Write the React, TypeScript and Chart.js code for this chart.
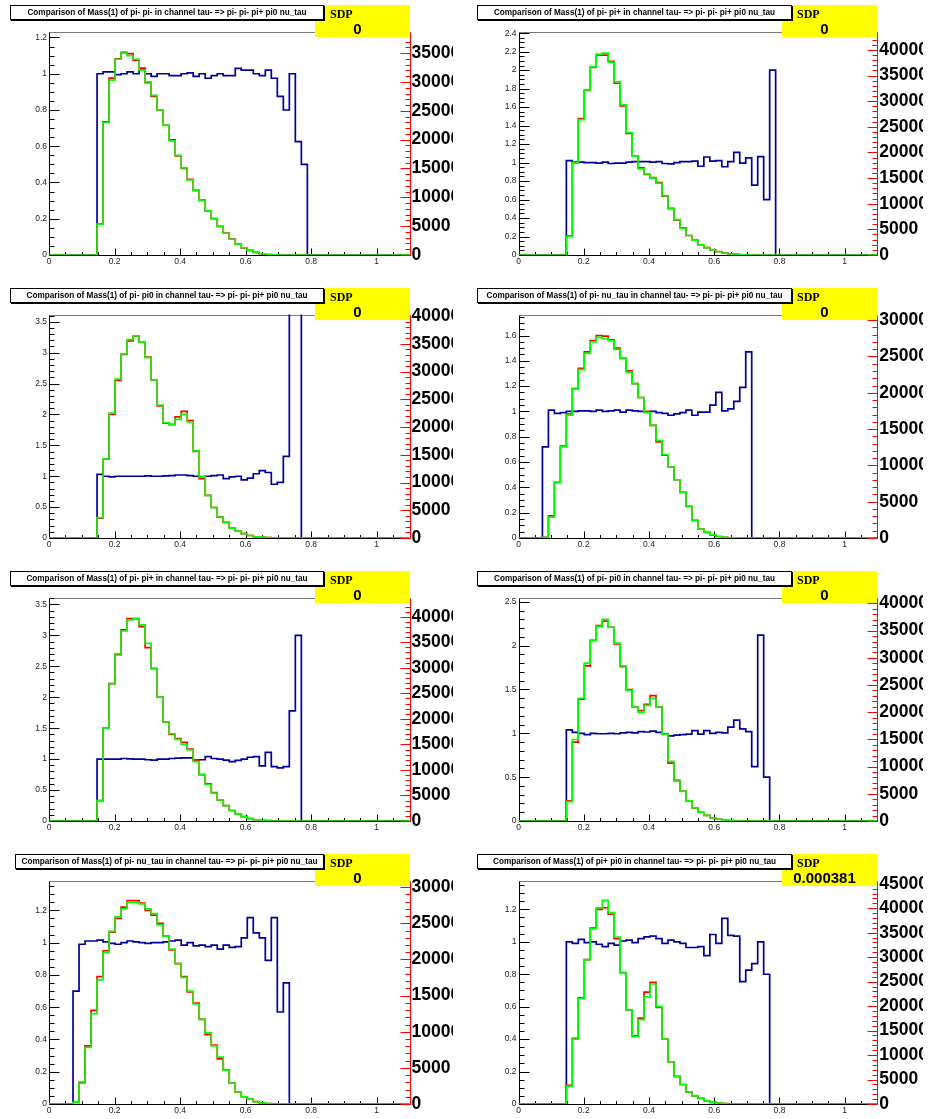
import React, { useEffect, useRef } from 'react';
import { Chart, registerables } from 'chart.js';

Chart.register(...registerables);

const NBINS = 60;
const XMAX = 1.1;
const BIN_W = XMAX / NBINS;

const xTickLabels = [0, 0.2, 0.4, 0.6, 0.8, 1];

const titles = [
  'Comparison of Mass(1) of pi- pi- in channel tau- => pi- pi- pi+ pi0 nu_tau',
  'Comparison of Mass(1) of pi- pi+ in channel tau- => pi- pi- pi+ pi0 nu_tau',
  'Comparison of Mass(1) of pi- pi0 in channel tau- => pi- pi- pi+ pi0 nu_tau',
  'Comparison of Mass(1) of pi- nu_tau in channel tau- => pi- pi- pi+ pi0 nu_tau',
  'Comparison of Mass(1) of pi- pi+ in channel tau- => pi- pi- pi+ pi0 nu_tau',
  'Comparison of Mass(1) of pi- pi0 in channel tau- => pi- pi- pi+ pi0 nu_tau',
  'Comparison of Mass(1) of pi- nu_tau in channel tau- => pi- pi- pi+ pi0 nu_tau',
  'Comparison of Mass(1) of pi+ pi0 in channel tau- => pi- pi- pi+ pi0 nu_tau',
];
const sdpValues = ['0', '0', '0', '0', '0', '0', '0', '0.000381'];

// ---- Panel 1: pi- pi- ----
const p1Start = 8;
const p1Blue = [1.0, 1.01, 1.01, 0.995, 1.0, 1.01, 1.0, 1.02, 1.0, 0.985, 1.0, 1.0, 0.99, 0.99, 1.0, 1.005, 0.985, 1.0, 0.975, 0.99, 1.0, 0.99, 0.99, 1.03, 1.02, 1.02, 1.0, 0.99, 1.02, 0.975, 0.875, 0.8, 1.0, 0.625, 0.5];
const p1Green = [5340, 22940, 30330, 33940, 35200, 34570, 33940, 32060, 30010, 27660, 25140, 22470, 19800, 17290, 15090, 13040, 11160, 9430, 7700, 6290, 4930, 3770, 2730, 1890, 1260, 790, 440, 220, 90, 30];
const p1Red = [5400, 23100, 30650, 34000, 35100, 34900, 33800, 32400, 29900, 27500, 25100, 22500, 19950, 17200, 15000, 13100, 11200, 9500, 7650, 6300, 4950, 3800, 2750, 1900, 1250, 800, 450, 220, 90, 30];

// ---- Panel 2: pi- pi+ ----
const p2Start = 8;
const p2Blue = [1.02, 1.0, 1.005, 1.0, 1.0, 0.995, 1.005, 0.99, 0.995, 0.995, 1.005, 1.01, 1.01, 1.01, 1.005, 1.01, 0.99, 0.985, 1.0, 1.01, 1.01, 1.015, 0.96, 1.06, 1.015, 1.02, 0.955, 1.01, 1.11, 0.995, 1.05, 0.755, 1.065, 0.6, 2.0];
const p2Green = [3600, 18000, 26400, 32200, 36700, 39200, 39400, 37600, 33800, 29300, 23900, 19300, 16800, 15800, 15000, 14000, 11600, 9000, 6900, 5200, 3800, 2900, 2000, 1450, 1000, 630, 360, 220, 110, 40];
const p2Red = [3700, 18100, 26600, 32100, 36600, 39000, 39000, 37800, 33500, 29100, 23700, 19300, 17000, 15700, 15100, 14100, 11500, 9100, 6800, 5300, 3800, 2900, 2000, 1450, 1000, 640, 370, 220, 110, 40];

// ---- Panel 3: pi- pi0 ----
const p3Start = 8;
const p3Blue = [1.03, 1.0, 0.99, 1.0, 1.0, 1.0, 1.0, 1.0, 1.005, 1.0, 1.0, 1.005, 1.01, 1.02, 1.02, 1.01, 1.0, 0.995, 1.0, 1.01, 1.02, 0.96, 0.99, 1.0, 0.94, 0.97, 1.04, 1.09, 1.06, 0.87, 0.9, 1.32, 4.2, 4.6];
const p3Green = [3680, 14260, 22500, 28630, 33200, 35760, 36430, 35310, 32530, 28520, 23950, 20830, 20390, 21390, 22280, 20940, 15710, 11030, 7690, 5460, 3790, 2790, 1780, 1230, 780, 450, 220, 110, 50];
const p3Red = [3600, 14200, 22280, 28400, 33100, 35540, 36400, 35300, 32640, 28500, 23840, 20720, 20500, 21830, 22840, 21170, 15600, 10700, 7700, 5500, 3750, 2800, 1800, 1230, 780, 450, 220, 110, 50];

// ---- Panel 4: pi- nu_tau ----
const p4Start = 4;
const p4Blue = [0.72, 1.01, 0.985, 0.99, 1.0, 1.0, 1.005, 1.005, 1.0, 1.01, 1.0, 1.005, 1.01, 0.995, 1.01, 1.005, 1.0, 0.995, 1.0, 0.99, 0.985, 0.97, 0.98, 0.99, 1.01, 0.97, 0.995, 0.995, 1.05, 1.15, 1.005, 1.02, 1.08, 1.19, 1.47];
const p4Green = [90, 2880, 7670, 12550, 16910, 20570, 23180, 25450, 27020, 27630, 27450, 27190, 25970, 24750, 22830, 21260, 19350, 17260, 15510, 13420, 11500, 9760, 8020, 6270, 4360, 2440, 1220, 780, 440, 210, 90, 35];
const p4Red = [90, 3050, 7670, 12640, 17080, 20570, 23360, 25620, 27190, 27890, 27800, 27280, 26150, 24750, 23010, 21260, 19350, 17430, 15510, 13250, 11420, 9760, 8020, 6270, 4360, 2440, 1220, 780, 440, 210, 90, 35];

// ---- Panel 5: pi- pi+ ----
const p5Start = 8;
const p5Blue = [1.0, 1.0, 1.0, 1.0, 1.01, 1.005, 1.0, 1.0, 0.99, 0.985, 1.0, 1.0, 1.01, 1.015, 1.02, 1.02, 0.985, 0.99, 1.04, 1.01, 1.0, 0.985, 0.96, 0.98, 1.0, 1.03, 1.04, 0.89, 1.11, 0.88, 0.86, 0.88, 1.78, 3.0];
const p5Green = [4000, 18180, 26910, 32720, 37210, 39390, 39630, 38420, 34780, 29940, 24240, 19390, 17090, 16000, 15030, 13940, 11640, 9090, 7150, 5450, 4120, 3030, 2060, 1330, 850, 480, 240, 120, 60];
const p5Red = [4000, 18180, 26910, 32600, 37450, 39630, 39630, 38060, 33940, 29820, 24240, 19390, 16970, 16120, 15390, 14060, 11880, 9090, 7270, 5580, 4120, 3030, 2060, 1330, 850, 480, 240, 120, 60];

// ---- Panel 6: pi- pi0 ----
const p6Start = 8;
const p6Blue = [1.04, 1.01, 1.0, 0.985, 1.0, 0.995, 0.995, 1.0, 0.995, 1.005, 1.01, 1.005, 1.02, 1.015, 1.025, 1.01, 0.995, 0.97, 0.98, 0.985, 0.99, 1.03, 0.99, 1.03, 1.0, 1.01, 1.005, 1.07, 1.15, 1.05, 1.02, 0.62, 2.12, 0.5];
const p6Green = [3550, 14990, 22570, 29020, 33210, 35790, 37080, 35630, 32720, 28530, 24020, 20960, 19990, 21280, 22570, 20960, 15960, 10960, 7580, 5480, 3710, 2420, 1610, 1050, 560, 320, 160, 80];
const p6Red = [3710, 14510, 22410, 28530, 33210, 35950, 36750, 35630, 32560, 28370, 24180, 20960, 20310, 21440, 23050, 20960, 15960, 10640, 7420, 5480, 3710, 2420, 1610, 1050, 560, 320, 160, 80];

// ---- Panel 7: pi- nu_tau ----
const p7Start = 4;
const p7Blue = [0.7, 0.99, 1.01, 1.01, 1.015, 1.005, 0.995, 0.99, 1.0, 1.01, 1.005, 1.0, 0.995, 1.0, 1.0, 1.005, 1.01, 1.015, 0.985, 1.0, 0.98, 0.985, 0.975, 0.985, 0.96, 0.985, 0.97, 0.975, 1.03, 1.155, 1.06, 1.03, 0.89, 1.155, 0.57, 0.75];
const p7Green = [220, 2900, 7820, 12500, 17190, 20990, 23890, 25900, 27020, 27910, 27910, 27690, 27020, 26350, 24790, 23220, 21440, 19430, 17530, 15630, 13840, 11720, 9830, 8040, 6480, 4690, 2900, 1670, 1000, 670, 330, 160, 70];
const p7Red = [220, 3010, 8040, 12950, 17640, 21210, 23780, 25680, 27240, 28140, 28140, 27800, 26800, 26130, 25010, 23220, 21330, 19430, 17640, 15520, 13960, 11720, 9600, 8150, 6250, 4690, 2900, 1670, 1000, 670, 330, 160, 70];

// ---- Panel 8: pi+ pi0 ----
const p8Start = 8;
const p8Blue = [1.0, 0.99, 1.015, 0.995, 1.0, 0.985, 0.97, 0.99, 0.98, 1.005, 1.01, 0.995, 1.02, 1.03, 1.035, 1.02, 0.99, 1.01, 1.0, 0.99, 0.965, 0.965, 0.97, 0.915, 1.045, 0.99, 1.145, 1.04, 1.035, 0.755, 0.825, 0.865, 1.0, 0.8];
const p8Green = [3640, 13250, 21530, 29490, 35780, 40090, 41580, 39090, 34120, 26840, 19220, 13750, 17230, 21870, 24520, 19880, 13250, 8610, 5630, 3980, 2480, 1660, 1160, 660, 330, 170, 70];
const p8Red = [3810, 13420, 21700, 29490, 35950, 39760, 40090, 38760, 33790, 26840, 19220, 13910, 17560, 22860, 24850, 19710, 13250, 8610, 5630, 3980, 2480, 1660, 1160, 660, 330, 170, 70];

type Panel = {
  title: string; sdp: string; start: number;
  blue: number[]; red: number[]; green: number[];
  leftMax: number; leftStep: number; leftMinor: number; rightMax: number;
};

const panels: Panel[] = [
  { title: titles[0], sdp: sdpValues[0], start: p1Start, blue: p1Blue, red: p1Red, green: p1Green, leftMax: 1.233, leftStep: 0.2, leftMinor: 0.05, rightMax: 38750 },
  { title: titles[1], sdp: sdpValues[1], start: p2Start, blue: p2Blue, red: p2Red, green: p2Green, leftMax: 2.418, leftStep: 0.2, leftMinor: 0.05, rightMax: 43600 },
  { title: titles[2], sdp: sdpValues[2], start: p3Start, blue: p3Blue, red: p3Red, green: p3Green, leftMax: 3.618, leftStep: 0.5, leftMinor: 0.1, rightMax: 40300 },
  { title: titles[3], sdp: sdpValues[3], start: p4Start, blue: p4Blue, red: p4Red, green: p4Green, leftMax: 1.766, leftStep: 0.2, leftMinor: 0.05, rightMax: 30780 },
  { title: titles[4], sdp: sdpValues[4], start: p5Start, blue: p5Blue, red: p5Red, green: p5Green, leftMax: 3.612, leftStep: 0.5, leftMinor: 0.1, rightMax: 43770 },
  { title: titles[5], sdp: sdpValues[5], start: p6Start, blue: p6Blue, red: p6Red, green: p6Green, leftMax: 2.549, leftStep: 0.5, leftMinor: 0.1, rightMax: 41100 },
  { title: titles[6], sdp: sdpValues[6], start: p7Start, blue: p7Blue, red: p7Red, green: p7Green, leftMax: 1.385, leftStep: 0.2, leftMinor: 0.05, rightMax: 30930 },
  { title: titles[7], sdp: sdpValues[7], start: p8Start, blue: p8Blue, red: p8Red, green: p8Green, leftMax: 1.378, leftStep: 0.2, leftMinor: 0.05, rightMax: 45660 },
];

function fullBins(start: number, vals: number[]): number[] {
  const a = new Array(NBINS).fill(0);
  vals.forEach((v, i) => { a[start + i] = v; });
  return a;
}

// bin i value is held from its low edge to its high edge
function stepPoints(arr: number[]) {
  const pts = arr.map((v, i) => ({ x: i * BIN_W, y: v }));
  pts.push({ x: XMAX, y: arr[NBINS - 1] });
  return pts;
}

const SANS = "'Liberation Sans', Arial, Helvetica, sans-serif";
const SERIF = "'Liberation Serif', 'Times New Roman', serif";

const rootAxes = {
  id: 'rootAxes',
  beforeDatasetsDraw(chart: any, _args: any, opts: any) {
    const { ctx, chartArea: a } = chart;
    const xs = chart.scales.x, yl = chart.scales.y, yr = chart.scales.yR;
    const L = Math.round(a.left) + 0.5, R = Math.round(a.right) + 0.5;
    const T = Math.round(a.top) + 0.5, B = Math.round(a.bottom) + 0.5;
    ctx.save();
    ctx.lineWidth = 1;
    const seg = (x1: number, y1: number, x2: number, y2: number) => {
      ctx.beginPath(); ctx.moveTo(x1, y1); ctx.lineTo(x2, y2); ctx.stroke();
    };
    ctx.strokeStyle = '#7a7a7a';
    seg(L, T, R, T);
    ctx.strokeStyle = '#000';
    seg(L, T, L, B);
    seg(L, B, R, B);
    const ratio = Math.round(opts.leftStep / opts.leftMinor);
    const nL = Math.floor(opts.leftMax / opts.leftMinor + 1e-6);
    for (let i = 0; i <= nL; i++) {
      const py = Math.round(yl.getPixelForValue(i * opts.leftMinor)) + 0.5;
      seg(L, py, L + (i % ratio === 0 ? 10 : 5), py);
    }
    for (let i = 0; i <= 22; i++) {
      const px = Math.round(xs.getPixelForValue(i * 0.05)) + 0.5;
      seg(px, B, px, B - (i % 4 === 0 ? 7 : 3.5));
    }
    ctx.strokeStyle = '#ff0000';
    seg(R, T, R, B);
    const nR = Math.floor(opts.rightMax / 1000);
    for (let i = 0; i <= nR; i++) {
      const py = Math.round(yr.getPixelForValue(i * 1000)) + 0.5;
      seg(R, py, R - (i % 5 === 0 ? 10 : 5), py);
    }
    ctx.restore();
  },
};

const fmt = (v: number) => String(Math.round(v * 100) / 100);

type Geo = { left: number; top: number; width: number; height: number; leftW: number; rightW: number; };

function PanelChart({ p, g }: { p: Panel; g: Geo }) {
  const ref = useRef<HTMLCanvasElement | null>(null);
  useEffect(() => {
    if (!ref.current) return;
    const blue = fullBins(p.start, p.blue);
    const red = fullBins(p.start, p.red);
    const green = fullBins(p.start, p.green);
    const xH = g.height - 255;
    const chart = new Chart(ref.current, {
      type: 'line',
      data: {
        datasets: [
          { label: 'green', data: stepPoints(green), yAxisID: 'yR', borderColor: '#00ff00', borderWidth: 1.7, stepped: 'before', pointRadius: 0, fill: false },
          { label: 'red', data: stepPoints(red), yAxisID: 'yR', borderColor: '#ff0000', borderWidth: 1.7, stepped: 'before', pointRadius: 0, fill: false },
          { label: 'blue', data: stepPoints(blue), yAxisID: 'y', borderColor: '#00009c', borderWidth: 1.7, stepped: 'before', pointRadius: 0, fill: false },
        ],
      },
      options: {
        animation: false,
        responsive: false,
        devicePixelRatio: 1,
        layout: { padding: { top: 31.5, left: 0, right: 0, bottom: 0 } },
        plugins: {
          legend: { display: false },
          tooltip: { enabled: false },
          rootAxes: { leftMax: p.leftMax, leftStep: p.leftStep, leftMinor: p.leftMinor, rightMax: p.rightMax },
        } as any,
        scales: {
          x: {
            type: 'linear', min: 0, max: XMAX,
            grid: { display: false, drawTicks: false }, border: { display: false },
            ticks: { font: { family: SANS, size: 8.5 }, color: '#222', padding: 2, maxRotation: 0, autoSkip: false, callback: (v: any) => fmt(Number(v)) },
            afterBuildTicks: (s: any) => { s.ticks = xTickLabels.map((value) => ({ value })); },
            afterFit: (s: any) => { s.height = xH; },
          },
          y: {
            type: 'linear', position: 'left', min: 0, max: p.leftMax,
            grid: { display: false, drawTicks: false }, border: { display: false },
            ticks: { font: { family: SANS, size: 8.5 }, color: '#222', padding: 2, autoSkip: false, callback: (v: any) => fmt(Number(v)) },
            afterBuildTicks: (s: any) => {
              const t: any[] = [];
              for (let i = 0; i * p.leftStep <= p.leftMax + 1e-9; i++) t.push({ value: Math.round(i * p.leftStep * 100) / 100 });
              s.ticks = t;
            },
            afterFit: (s: any) => { s.width = g.leftW; },
          },
          yR: {
            type: 'linear', position: 'right', min: 0, max: p.rightMax,
            grid: { display: false, drawTicks: false }, border: { display: false },
            ticks: { font: { family: SANS, size: 17.5, weight: 'bold' }, color: '#000', padding: 2, autoSkip: false, callback: (v: any) => String(v) },
            afterBuildTicks: (s: any) => {
              const t: any[] = [];
              for (let v = 0; v <= p.rightMax; v += 5000) t.push({ value: v });
              s.ticks = t;
            },
            afterFit: (s: any) => { s.width = g.rightW; },
          },
        },
      } as any,
      plugins: [rootAxes as any],
    });
    return () => chart.destroy();
  }, []);
  return (
    <canvas
      ref={ref}
      width={g.width}
      height={g.height}
      style={{ position: 'absolute', left: g.left, top: g.top, width: g.width, height: g.height }}
    />
  );
}

const colGeo = [
  { left: 0, width: 453, leftW: 49, rightW: 43.5, titleRight: 324, sdpLeft: 315 },
  { left: 465, width: 458, leftW: 53.5, rightW: 45.7, titleRight: 792, sdpLeft: 782 },
];
const titleLeft = [10, 477, 10, 477, 10, 477, 15, 477];
const ROW_PITCH = 283;
const PAGE_H = 1119;

export default function App() {
  return (
    <div style={{ position: 'absolute', left: 0, top: 0, width: 929, height: PAGE_H, overflow: 'hidden', background: '#fff' }}>
      {panels.map((p, i) => {
        const row = Math.floor(i / 2);
        const col = i % 2;
        const c = colGeo[col];
        const top = row * ROW_PITCH;
        const height = Math.min(ROW_PITCH, PAGE_H - top);
        return (
          <PanelChart key={'c' + i} p={p} g={{ left: c.left, top, width: c.width, height, leftW: c.leftW, rightW: c.rightW }} />
        );
      })}
      {panels.map((p, i) => {
        const row = Math.floor(i / 2);
        const col = i % 2;
        const c = colGeo[col];
        const top = row * ROW_PITCH + 5;
        return (
          <React.Fragment key={'t' + i}>
            <div style={{ position: 'absolute', left: c.sdpLeft, top, width: 95, height: 32, background: '#ffff00' }}>
              <div style={{ position: 'absolute', left: 15, top: 3, fontFamily: SERIF, fontWeight: 'bold', fontSize: 12, lineHeight: '12px', color: '#000' }}>SDP</div>
              <div style={{ position: 'absolute', left: 0, right: 10, top: 16, textAlign: 'center', fontFamily: SANS, fontWeight: 'bold', fontSize: 15, lineHeight: '15px', color: '#000' }}>{p.sdp}</div>
            </div>
            <div
              style={{
                position: 'absolute', left: titleLeft[i], width: c.titleRight - titleLeft[i], top, height: 15, lineHeight: '13px',
                boxSizing: 'border-box', textAlign: 'center', overflow: 'hidden',
                border: '1px solid #000', boxShadow: '1px 1px 0 #000', background: '#fff',
                fontFamily: SANS, fontWeight: 'bold', fontSize: 8.2, color: '#000', whiteSpace: 'nowrap',
              }}
            >
              {p.title}
            </div>
          </React.Fragment>
        );
      })}
    </div>
  );
}
